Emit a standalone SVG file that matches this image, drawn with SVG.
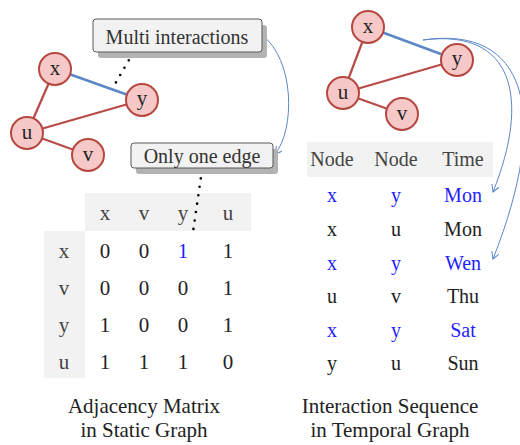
<svg xmlns="http://www.w3.org/2000/svg" width="520" height="445" viewBox="0 0 520 445">
<style>
text{font-family:"Liberation Serif","Times New Roman",serif;text-anchor:middle}
.nd circle{fill:#f6c9c8;stroke:#b5473f;stroke-width:2}
.nd text{font-size:21px;fill:#222}
.red{stroke:#b84b47;stroke-width:2.2;fill:none}
.blu{stroke:#5b87c9;stroke-width:2.5;fill:none}
.arr{stroke:#5b86c6;stroke-width:1;fill:none;marker-end:url(#ah)}
.dot{stroke:#000;stroke-width:2.6;stroke-linecap:round;stroke-dasharray:0 8.5;fill:none}
.box{fill:#f2f2f2;stroke:#595959;stroke-width:1}
.shd{fill:#b3b3b3}
.band{fill:#f2f2f2}
.m{font-size:21px;fill:#222}
.mh{font-size:21px;fill:#444}
.t{font-size:20px;fill:#222}
.th{font-size:20px;fill:#444}
.b{fill:#1f1fff}
.cap{font-size:21px;fill:#222}
.lbl{font-size:20px;fill:#333}
</style>
<defs>
<marker id="ah" markerWidth="9" markerHeight="9" refX="7" refY="4" orient="auto" markerUnits="userSpaceOnUse">
<path d="M0,0 L7,4 L0,8" fill="none" stroke="#5b86c6" stroke-width="1"/>
</marker>
</defs>

<!-- table backgrounds -->
<rect class="band" x="85" y="193" width="166" height="38"/>
<rect class="band" x="44" y="231" width="41" height="147"/>
<rect class="band" x="307" y="142" width="186" height="35"/>

<!-- connectors -->
<g id="connectors">
<line class="red" x1="55" y1="69" x2="27" y2="133"/>
<line class="red" x1="27" y1="133" x2="142" y2="100"/>
<line class="red" x1="27" y1="133" x2="88" y2="155"/>
<line class="blu" x1="55" y1="69" x2="142" y2="100"/>
<line class="red" x1="368" y1="27" x2="343" y2="93"/>
<line class="red" x1="343" y1="93" x2="457" y2="60"/>
<line class="red" x1="343" y1="93" x2="402" y2="114"/>
<line class="blu" x1="368" y1="27" x2="457" y2="60"/>
<path class="dot" d="M133,53 L115,84"/>
<path class="dot" d="M202,170 L193,232"/>
<path class="arr" d="M262,35 C295,60 295,130 275,154"/>
<path class="arr" d="M423,40 C515,28 530,100 493,192"/>
<path class="arr" d="M423,40 C525,25 552,110 493,259"/>
</g>

<!-- left graph nodes -->
<g id="lx" class="nd"><circle cx="55" cy="69" r="16"/><text x="55" y="75">x</text></g>
<g id="ly" class="nd"><circle cx="142" cy="100" r="16"/><text x="142" y="105">y</text></g>
<g id="lu" class="nd"><circle cx="27" cy="133" r="16"/><text x="27" y="139">u</text></g>
<g id="lv" class="nd"><circle cx="88" cy="155" r="16"/><text x="88" y="161">v</text></g>

<!-- right graph nodes -->
<g id="rx" class="nd"><circle cx="368" cy="27" r="16"/><text x="368" y="33">x</text></g>
<g id="ry" class="nd"><circle cx="457" cy="60" r="16"/><text x="457" y="65">y</text></g>
<g id="ru" class="nd"><circle cx="343" cy="93" r="16"/><text x="343" y="99">u</text></g>
<g id="rv" class="nd"><circle cx="402" cy="114" r="16"/><text x="402" y="120">v</text></g>

<!-- callouts -->
<g id="multi">
<rect class="shd" x="98" y="25" width="169" height="33" rx="3"/>
<rect class="box" x="93" y="19" width="169" height="33" rx="3"/>
<text class="lbl" x="177" y="44">Multi interactions</text>
</g>
<g id="oneedge">
<rect class="shd" x="136" y="149" width="142" height="25" rx="3"/>
<rect class="box" x="131" y="143" width="142" height="25" rx="3"/>
<text class="lbl" x="202" y="163">Only one edge</text>
</g>

<!-- adjacency matrix -->
<g id="matrix">
<text class="mh" x="105" y="220">x</text>
<text class="mh" x="144" y="220">v</text>
<text class="mh" x="183" y="220">y</text>
<text class="mh" x="228" y="220">u</text>
<text class="mh" x="64" y="258">x</text>
<text class="mh" x="64" y="295">v</text>
<text class="mh" x="64" y="332">y</text>
<text class="mh" x="64" y="369">u</text>
<text class="m" x="105" y="258">0</text><text class="m" x="144" y="258">0</text><text class="m b" x="183" y="258">1</text><text class="m" x="228" y="258">1</text>
<text class="m" x="105" y="295">0</text><text class="m" x="144" y="295">0</text><text class="m" x="183" y="295">0</text><text class="m" x="228" y="295">1</text>
<text class="m" x="105" y="332">1</text><text class="m" x="144" y="332">0</text><text class="m" x="183" y="332">0</text><text class="m" x="228" y="332">1</text>
<text class="m" x="105" y="369">1</text><text class="m" x="144" y="369">1</text><text class="m" x="183" y="369">1</text><text class="m" x="228" y="369">0</text>
</g>

<!-- interaction sequence -->
<g id="sequence">
<text class="th" x="332" y="166">Node</text>
<text class="th" x="396" y="166">Node</text>
<text class="th" x="463" y="166">Time</text>
<text class="t b" x="332" y="202">x</text><text class="t b" x="396" y="202">y</text><text class="t b" x="463" y="202">Mon</text>
<text class="t" x="332" y="236">x</text><text class="t" x="396" y="236">u</text><text class="t" x="463" y="236">Mon</text>
<text class="t b" x="332" y="270">x</text><text class="t b" x="396" y="270">y</text><text class="t b" x="463" y="270">Wen</text>
<text class="t" x="332" y="303">u</text><text class="t" x="396" y="303">v</text><text class="t" x="463" y="303">Thu</text>
<text class="t b" x="332" y="337">x</text><text class="t b" x="396" y="337">y</text><text class="t b" x="463" y="337">Sat</text>
<text class="t" x="332" y="370">y</text><text class="t" x="396" y="370">u</text><text class="t" x="463" y="370">Sun</text>
</g>

<!-- captions -->
<g id="captions">
<text class="cap" x="144" y="413">Adjacency Matrix</text>
<text class="cap" x="144" y="437">in Static Graph</text>
<text class="cap" x="390" y="413">Interaction Sequence</text>
<text class="cap" x="390" y="437">in Temporal Graph</text>
</g>
</svg>
